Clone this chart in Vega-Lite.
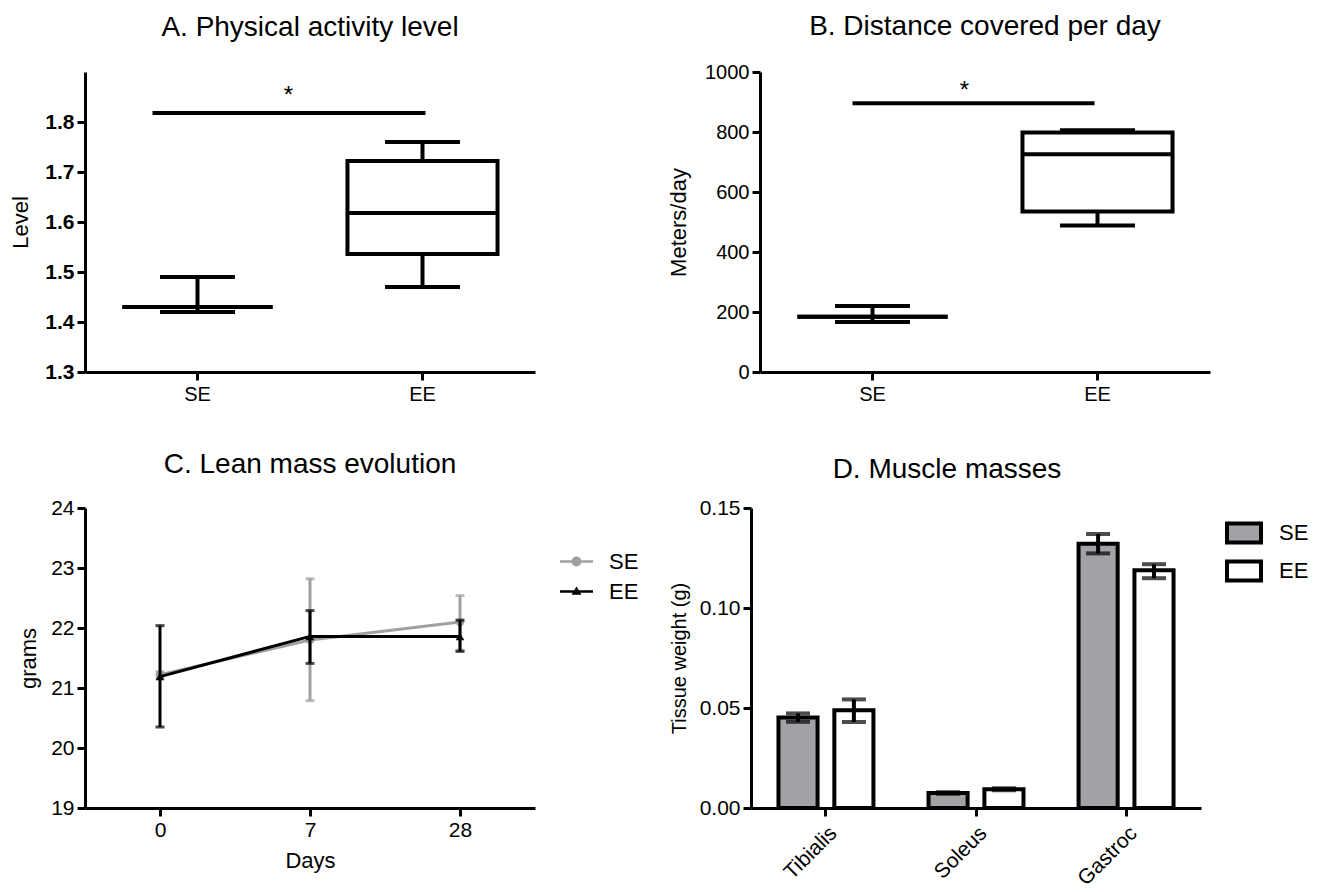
{
  "$schema": "https://vega.github.io/schema/vega-lite/v6.json",
  "background": "white",
  "padding": {"left": 9, "top": 13, "right": 120, "bottom": 0},
  "config": {
    "font": "Liberation Sans",
    "view": {"stroke": null},
    "axis": {
      "grid": false,
      "domainColor": "black",
      "domainWidth": 3,
      "tickColor": "black",
      "tickWidth": 3,
      "tickSize": 8,
      "labelColor": "black",
      "labelFontSize": 20,
      "labelPadding": 3,
      "titleColor": "black",
      "titleFontSize": 22,
      "titleFontWeight": "normal"
    },
    "title": {"fontSize": 28, "fontWeight": "normal", "color": "black", "frame": "group", "offset": 22},
    "legend": {"labelFontSize": 22, "labelColor": "black"}
  },
  "resolve": {"scale": {"color": "independent", "shape": "independent"}},
  "spacing": 47,
  "vconcat": [
    {
      "spacing": 132,
      "hconcat": [
        {
          "title": {"text": "A. Physical activity level", "offset": 30},
          "width": 450,
          "height": 300,
          "data": {"values": [
            {"group": "SE", "min": 1.42, "q1": 1.43, "median": 1.43, "q3": 1.43, "max": 1.49},
            {"group": "EE", "min": 1.47, "q1": 1.536, "median": 1.618, "q3": 1.722, "max": 1.76}
          ]},
          "encoding": {
            "x": {"field": "group", "type": "nominal", "title": null, "scale": {"domain": ["SE", "EE"], "paddingInner": 0, "paddingOuter": 0}, "axis": {"labelAngle": 0, "labelPadding": 4}}
          },
          "layer": [
            {"mark": {"type": "rule", "color": "black", "strokeWidth": 4},
             "encoding": {"y": {"field": "q3", "type": "quantitative", "title": "Level", "scale": {"domain": [1.3, 1.9], "nice": false, "zero": false}, "axis": {"values": [1.3, 1.4, 1.5, 1.6, 1.7, 1.8], "format": ".1f", "labelFontWeight": "bold", "labelFontSize": 21, "titlePadding": 12}}, "y2": {"field": "max"}}},
            {"mark": {"type": "rule", "color": "black", "strokeWidth": 4},
             "encoding": {"y": {"field": "min", "type": "quantitative", "title": "Level"}, "y2": {"field": "q1"}}},
            {"mark": {"type": "bar", "fill": "white", "stroke": "black", "strokeWidth": 4, "width": {"band": 0.667}},
             "encoding": {"y": {"field": "q1", "type": "quantitative", "title": "Level"}, "y2": {"field": "q3"}}},
            {"mark": {"type": "bar", "fill": "white", "stroke": "black", "strokeWidth": 4, "width": {"band": 0.667}},
             "encoding": {"y": {"field": "median", "type": "quantitative", "title": "Level"}, "y2": {"field": "median"}}},
            {"mark": {"type": "bar", "fill": "white", "stroke": "black", "strokeWidth": 4, "width": {"band": 0.333}},
             "encoding": {"y": {"field": "max", "type": "quantitative", "title": "Level"}, "y2": {"field": "max"}}},
            {"mark": {"type": "bar", "fill": "white", "stroke": "black", "strokeWidth": 4, "width": {"band": 0.333}},
             "encoding": {"y": {"field": "min", "type": "quantitative", "title": "Level"}, "y2": {"field": "min"}}},
            {"data": {"values": [{"group": "SE", "to": "EE", "y": 1.818, "star": 1.838, "label": "*"}]},
             "layer": [
               {"mark": {"type": "rule", "color": "black", "strokeWidth": 4, "xOffset": -45, "x2Offset": 3},
                "encoding": {"x2": {"field": "to"}, "y": {"field": "y", "type": "quantitative", "title": "Level"}}},
               {"mark": {"type": "text", "fontSize": 24, "baseline": "alphabetic", "dx": 91, "color": "black"},
                "encoding": {"y": {"field": "star", "type": "quantitative", "title": "Level"}, "text": {"field": "label"}}}
             ]}
          ]
        },
        {
          "title": {"text": "B. Distance covered per day", "offset": 21},
          "width": 450,
          "height": 300,
          "data": {"values": [
            {"group": "SE", "min": 167, "q1": 184, "median": 184, "q3": 184, "max": 220},
            {"group": "EE", "min": 488, "q1": 535, "median": 726, "q3": 798, "max": 806}
          ]},
          "encoding": {
            "x": {"field": "group", "type": "nominal", "title": null, "scale": {"domain": ["SE", "EE"], "paddingInner": 0, "paddingOuter": 0}, "axis": {"labelAngle": 0, "labelPadding": 4}}
          },
          "layer": [
            {"mark": {"type": "rule", "color": "black", "strokeWidth": 4},
             "encoding": {"y": {"field": "q3", "type": "quantitative", "title": "Meters/day", "scale": {"domain": [0, 1000], "nice": false}, "axis": {"values": [0, 200, 400, 600, 800, 1000], "format": "d", "titlePadding": 14}}, "y2": {"field": "max"}}},
            {"mark": {"type": "rule", "color": "black", "strokeWidth": 4},
             "encoding": {"y": {"field": "min", "type": "quantitative", "title": "Meters/day"}, "y2": {"field": "q1"}}},
            {"mark": {"type": "bar", "fill": "white", "stroke": "black", "strokeWidth": 4, "width": {"band": 0.667}},
             "encoding": {"y": {"field": "q1", "type": "quantitative", "title": "Meters/day"}, "y2": {"field": "q3"}}},
            {"mark": {"type": "bar", "fill": "white", "stroke": "black", "strokeWidth": 4, "width": {"band": 0.667}},
             "encoding": {"y": {"field": "median", "type": "quantitative", "title": "Meters/day"}, "y2": {"field": "median"}}},
            {"mark": {"type": "bar", "fill": "white", "stroke": "black", "strokeWidth": 4, "width": {"band": 0.333}},
             "encoding": {"y": {"field": "max", "type": "quantitative", "title": "Meters/day"}, "y2": {"field": "max"}}},
            {"mark": {"type": "bar", "fill": "white", "stroke": "black", "strokeWidth": 4, "width": {"band": 0.333}},
             "encoding": {"y": {"field": "min", "type": "quantitative", "title": "Meters/day"}, "y2": {"field": "min"}}},
            {"data": {"values": [{"group": "SE", "to": "EE", "y": 896, "star": 913, "label": "*"}]},
             "layer": [
               {"mark": {"type": "rule", "color": "black", "strokeWidth": 4, "xOffset": -20, "x2Offset": -3},
                "encoding": {"x2": {"field": "to"}, "y": {"field": "y", "type": "quantitative", "title": "Meters/day"}}},
               {"mark": {"type": "text", "fontSize": 24, "baseline": "alphabetic", "dx": 92, "color": "black"},
                "encoding": {"y": {"field": "star", "type": "quantitative", "title": "Meters/day"}, "text": {"field": "label"}}}
             ]}
          ]
        }
      ]
    },
    {
      "spacing": 30,
      "resolve": {"scale": {"color": "independent", "shape": "independent"}},
      "hconcat": [
        {
          "title": {"text": "C. Lean mass evolution", "offset": 18},
          "width": 450,
          "height": 300,
          "data": {"values": [
            {"day": "0", "group": "SE", "mean": 21.22, "lo": 21.17, "hi": 21.27},
            {"day": "7", "group": "SE", "mean": 21.8, "lo": 20.79, "hi": 22.82},
            {"day": "28", "group": "SE", "mean": 22.1, "lo": 21.63, "hi": 22.54},
            {"day": "0", "group": "EE", "mean": 21.19, "lo": 20.35, "hi": 22.04},
            {"day": "7", "group": "EE", "mean": 21.86, "lo": 21.41, "hi": 22.29},
            {"day": "28", "group": "EE", "mean": 21.86, "lo": 21.61, "hi": 22.13}
          ]},
          "encoding": {
            "x": {"field": "day", "type": "ordinal", "title": "Days", "scale": {"type": "point", "domain": ["0", "7", "28"], "padding": 0.5}, "axis": {"labelAngle": 0, "labelFontSize": 21, "titlePadding": 10}}
          },
          "layer": [
            {
              "transform": [{"filter": "datum.group == 'SE'"}],
              "layer": [
                {"mark": {"type": "rule", "color": "#a0a0a0", "strokeWidth": 3},
                 "encoding": {"y": {"field": "lo", "type": "quantitative", "title": "grams", "scale": {"domain": [19, 24], "nice": false, "zero": false}, "axis": {"values": [19, 20, 21, 22, 23, 24], "format": "d", "labelFontSize": 21, "titlePadding": 10}}, "y2": {"field": "hi"}}},
                {"mark": {"type": "tick", "color": "#a0a0a0", "thickness": 3, "size": 9},
                 "encoding": {"y": {"field": "hi", "type": "quantitative", "title": "grams"}}},
                {"mark": {"type": "tick", "color": "#a0a0a0", "thickness": 3, "size": 9},
                 "encoding": {"y": {"field": "lo", "type": "quantitative", "title": "grams"}}},
                {"mark": {"type": "line", "color": "#a0a0a0", "strokeWidth": 3},
                 "encoding": {"y": {"field": "mean", "type": "quantitative", "title": "grams"}}},
                {"mark": {"type": "point", "shape": "circle", "filled": true, "size": 75, "opacity": 1, "color": "#a0a0a0"},
                 "encoding": {"y": {"field": "mean", "type": "quantitative", "title": "grams"}}}
              ]
            },
            {
              "transform": [{"filter": "datum.group == 'EE'"}],
              "layer": [
                {"mark": {"type": "rule", "color": "black", "strokeWidth": 3},
                 "encoding": {"y": {"field": "lo", "type": "quantitative", "title": "grams"}, "y2": {"field": "hi"}}},
                {"mark": {"type": "tick", "color": "black", "thickness": 3, "size": 9},
                 "encoding": {"y": {"field": "hi", "type": "quantitative", "title": "grams"}}},
                {"mark": {"type": "tick", "color": "black", "thickness": 3, "size": 9},
                 "encoding": {"y": {"field": "lo", "type": "quantitative", "title": "grams"}}},
                {"mark": {"type": "line", "color": "black", "strokeWidth": 3},
                 "encoding": {"y": {"field": "mean", "type": "quantitative", "title": "grams"}}},
                {"mark": {"type": "point", "shape": "triangle-up", "filled": true, "size": 75, "opacity": 1, "color": "black"},
                 "encoding": {"y": {"field": "mean", "type": "quantitative", "title": "grams"}}}
              ]
            },
            {
              "mark": {"type": "point", "filled": true, "opacity": 0},
              "encoding": {
                "y": {"field": "mean", "type": "quantitative", "title": "grams"},
                "color": {"field": "group", "type": "nominal", "scale": {"domain": ["SE", "EE"], "range": ["#a0a0a0", "#000000"]},
                  "legend": {"orient": "none", "legendX": 475, "legendY": 37, "title": null, "symbolSize": 1089, "symbolStrokeWidth": 0, "symbolOpacity": 1, "labelFontSize": 22, "labelOffset": 16, "rowPadding": 2}},
                "shape": {"field": "group", "type": "nominal", "scale": {"domain": ["SE", "EE"], "range": ["M-1,-0.08H1V0.08H-1Z M-0.3,0A0.3,0.3 0 1,1 0.3,0A0.3,0.3 0 1,1 -0.3,0Z", "M-1,-0.08H1V0.08H-1Z M-0.3,0.2L0,-0.3L0.3,0.2Z"]},
                  "legend": {"orient": "none", "legendX": 475, "legendY": 37, "title": null, "symbolSize": 1089, "symbolStrokeWidth": 0, "symbolOpacity": 1, "labelFontSize": 22, "labelOffset": 16, "rowPadding": 2}}
              }
            }
          ]
        },
        {
          "title": {"text": "D. Muscle masses", "dx": -29, "offset": 13},
          "width": 450,
          "height": 300,
          "data": {"values": [
            {"muscle": "Tibialis", "group": "SE", "mean": 0.0453, "lo": 0.0431, "hi": 0.0473},
            {"muscle": "Tibialis", "group": "EE", "mean": 0.0489, "lo": 0.043, "hi": 0.0543},
            {"muscle": "Soleus", "group": "SE", "mean": 0.0075, "lo": 0.0071, "hi": 0.0079},
            {"muscle": "Soleus", "group": "EE", "mean": 0.0094, "lo": 0.0089, "hi": 0.0099},
            {"muscle": "Gastroc", "group": "SE", "mean": 0.1321, "lo": 0.1273, "hi": 0.137},
            {"muscle": "Gastroc", "group": "EE", "mean": 0.1189, "lo": 0.1149, "hi": 0.1219}
          ]},
          "encoding": {
            "x": {"field": "muscle", "type": "nominal", "title": null, "scale": {"domain": ["Tibialis", "Soleus", "Gastroc"], "paddingInner": 0.367, "paddingOuter": 0.183}, "axis": {"labelAngle": -45, "labelFontSize": 21, "labelPadding": 6}},
            "xOffset": {"field": "group", "type": "nominal", "scale": {"domain": ["SE", "EE"], "paddingInner": 0.3, "paddingOuter": 0}}
          },
          "layer": [
            {"mark": {"type": "bar", "stroke": "black", "strokeWidth": 4},
             "encoding": {
               "y": {"field": "mean", "type": "quantitative", "title": "Tissue weight (g)", "scale": {"domain": [0, 0.15], "nice": false}, "axis": {"titleFontSize": 20, "values": [0, 0.05, 0.1, 0.15], "format": ".2f", "labelFontSize": 21, "titlePadding": 10}},
               "color": {"field": "group", "type": "nominal", "scale": {"domain": ["SE", "EE"], "range": ["#a2a2a6", "#ffffff"]},
                 "legend": {"orient": "none", "legendX": 474, "legendY": 6, "title": null, "symbolType": "M-1,-0.56H1V0.56H-1Z", "symbolSize": 1156, "symbolStrokeColor": "black", "symbolStrokeWidth": 4, "labelFontSize": 22, "labelOffset": 16, "rowPadding": 1}}
             }},
            {"mark": {"type": "rule", "color": "black", "strokeWidth": 4},
             "encoding": {"y": {"field": "lo", "type": "quantitative", "title": "Tissue weight (g)"}, "y2": {"field": "hi"}}},
            {"mark": {"type": "tick", "color": "black", "thickness": 4, "size": 24},
             "encoding": {"y": {"field": "hi", "type": "quantitative", "title": "Tissue weight (g)"}}},
            {"mark": {"type": "tick", "color": "black", "thickness": 4, "size": 24},
             "encoding": {"y": {"field": "lo", "type": "quantitative", "title": "Tissue weight (g)"}}}
          ]
        }
      ]
    }
  ]
}
